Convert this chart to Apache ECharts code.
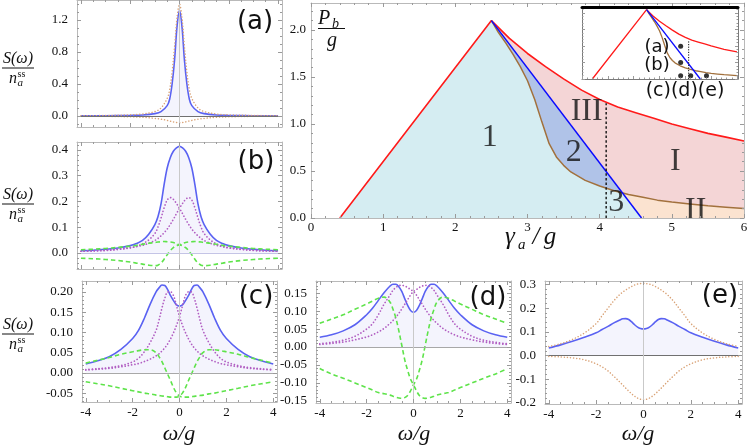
<!DOCTYPE html>
<html><head><meta charset="utf-8">
<script src="https://cdn.jsdelivr.net/npm/echarts@6.0.0/dist/echarts.min.js"></script>
<style>html,body{margin:0;padding:0;background:#fff}#c{width:747px;height:446px}</style>
</head><body><div id="c"></div>
<script>
// ---------------- data ----------------
const W = [-4,-3.5,-3,-2.5,-2,-1.75,-1.5,-1.25,-1,-0.875,-0.75,-0.625,-0.5,-0.375,-0.25,-0.125,0,0.125,0.25,0.375,0.5,0.625,0.75,0.875,1,1.25,1.5,1.75,2,2.5,3,3.5,4];
const A_W = [-4,-3,-2,-1.5,-1,-0.75,-0.5,-0.4,-0.3,-0.2,-0.1,0,0.1,0.2,0.3,0.4,0.5,0.75,1,1.5,2,3,4];

// panel (a)
const A_BLUE = [0.002,0.003,0.007,0.012,0.03,0.055,0.13,0.21,0.4,0.7,1.12,1.32,1.12,0.7,0.4,0.21,0.13,0.055,0.03,0.012,0.007,0.003,0.002];
const A_UP   = [0.003,0.006,0.014,0.025,0.055,0.1,0.22,0.33,0.55,0.87,1.23,1.40,1.23,0.87,0.55,0.33,0.22,0.1,0.055,0.025,0.014,0.006,0.003];
const A_DN   = [-0.002,-0.004,-0.01,-0.016,-0.03,-0.04,-0.055,-0.062,-0.07,-0.077,-0.082,-0.085,-0.082,-0.077,-0.07,-0.062,-0.055,-0.04,-0.03,-0.016,-0.01,-0.004,-0.002];

// panel (b)
const B_BLUE = [0.008,0.01,0.014,0.019,0.028,0.036,0.048,0.072,0.11,0.14,0.19,0.265,0.33,0.37,0.395,0.408,0.414,0.408,0.395,0.37,0.33,0.265,0.19,0.14,0.11,0.072,0.048,0.036,0.028,0.019,0.014,0.01,0.008];
const B_PURPLE_L = [0.006,0.007,0.009,0.013,0.019,0.025,0.035,0.05,0.075,0.1,0.135,0.175,0.205,0.215,0.208,0.192,0.173,0.152,0.13,0.11,0.092,0.078,0.066,0.056,0.048,0.037,0.029,0.024,0.02,0.014,0.01,0.008,0.006];
const B_PURPLE_R = [0.006,0.008,0.01,0.014,0.02,0.024,0.029,0.037,0.048,0.056,0.066,0.078,0.092,0.11,0.13,0.152,0.173,0.192,0.208,0.215,0.205,0.175,0.135,0.1,0.075,0.05,0.035,0.025,0.019,0.013,0.009,0.007,0.006];
const B_GREEN_A = [0.012,0.014,0.017,0.021,0.026,0.029,0.033,0.037,0.04,0.042,0.043,0.044,0.043,0.042,0.04,0.036,0.031,0.028,0.02,0.008,-0.008,-0.025,-0.04,-0.048,-0.05,-0.048,-0.044,-0.04,-0.036,-0.03,-0.026,-0.023,-0.021];
const B_GREEN_B = [-0.021,-0.023,-0.026,-0.03,-0.036,-0.04,-0.044,-0.048,-0.05,-0.048,-0.04,-0.025,-0.008,0.008,0.02,0.028,0.031,0.036,0.04,0.042,0.043,0.044,0.043,0.042,0.04,0.037,0.033,0.029,0.026,0.021,0.017,0.014,0.012];

// panel (c)
const C_BLUE = [0.022,0.03,0.04,0.058,0.085,0.105,0.135,0.17,0.2,0.21,0.217,0.216,0.205,0.19,0.178,0.168,0.165,0.168,0.178,0.19,0.205,0.216,0.217,0.21,0.2,0.17,0.135,0.105,0.085,0.058,0.04,0.03,0.022];
const C_PURPLE_L = [0.008,0.01,0.013,0.018,0.027,0.036,0.052,0.075,0.105,0.13,0.16,0.185,0.2,0.2,0.19,0.165,0.139,0.118,0.1,0.085,0.072,0.062,0.054,0.047,0.042,0.034,0.028,0.023,0.02,0.015,0.011,0.009,0.007];
const C_PURPLE_R = [0.007,0.009,0.011,0.015,0.02,0.023,0.028,0.034,0.042,0.047,0.054,0.062,0.072,0.085,0.1,0.118,0.139,0.165,0.19,0.2,0.2,0.185,0.16,0.13,0.105,0.075,0.052,0.036,0.027,0.018,0.013,0.01,0.008];
const C_GREEN_A = [0.024,0.031,0.038,0.046,0.052,0.055,0.057,0.057,0.05,0.04,0.028,0.012,-0.004,-0.02,-0.037,-0.05,-0.057,-0.06,-0.06,-0.06,-0.059,-0.058,-0.057,-0.056,-0.055,-0.052,-0.05,-0.047,-0.044,-0.038,-0.032,-0.027,-0.022];
const C_GREEN_B = [-0.022,-0.027,-0.032,-0.038,-0.044,-0.047,-0.05,-0.052,-0.055,-0.056,-0.057,-0.058,-0.059,-0.06,-0.06,-0.06,-0.057,-0.05,-0.037,-0.02,-0.004,0.012,0.028,0.04,0.05,0.057,0.057,0.055,0.052,0.046,0.038,0.031,0.024];

// panel (d)
const D_BLUE = [0.027,0.034,0.045,0.062,0.09,0.108,0.13,0.152,0.17,0.175,0.175,0.168,0.155,0.135,0.116,0.102,0.097,0.102,0.116,0.135,0.155,0.168,0.175,0.175,0.17,0.152,0.13,0.108,0.09,0.062,0.045,0.034,0.027];
const D_PURPLE_L = [0.009,0.013,0.019,0.03,0.05,0.065,0.09,0.12,0.145,0.158,0.166,0.171,0.172,0.17,0.166,0.16,0.155,0.145,0.132,0.119,0.106,0.094,0.083,0.074,0.066,0.052,0.042,0.034,0.028,0.02,0.014,0.01,0.007];
const D_PURPLE_R = [0.007,0.01,0.014,0.02,0.028,0.034,0.042,0.052,0.066,0.074,0.083,0.094,0.106,0.119,0.132,0.145,0.155,0.16,0.166,0.17,0.172,0.171,0.166,0.158,0.145,0.12,0.09,0.065,0.05,0.03,0.019,0.013,0.009];
const D_GREEN_A = [0.066,0.078,0.09,0.105,0.12,0.128,0.136,0.139,0.125,0.105,0.08,0.045,0.005,-0.035,-0.065,-0.09,-0.105,-0.122,-0.135,-0.141,-0.143,-0.142,-0.14,-0.137,-0.134,-0.13,-0.127,-0.12,-0.113,-0.1,-0.087,-0.075,-0.06];
const D_GREEN_B = [-0.06,-0.075,-0.087,-0.1,-0.113,-0.12,-0.127,-0.13,-0.134,-0.137,-0.14,-0.142,-0.143,-0.141,-0.135,-0.122,-0.105,-0.09,-0.065,-0.035,0.005,0.045,0.08,0.105,0.125,0.139,0.136,0.128,0.12,0.105,0.09,0.078,0.066];

// panel (e)
const E_BLUE = [0.032,0.045,0.06,0.077,0.096,0.11,0.123,0.138,0.15,0.155,0.156,0.152,0.142,0.13,0.12,0.114,0.112,0.114,0.12,0.13,0.142,0.152,0.156,0.155,0.15,0.138,0.123,0.11,0.096,0.077,0.06,0.045,0.032];
const E_UP = [0.038,0.05,0.068,0.095,0.135,0.168,0.2,0.232,0.258,0.268,0.277,0.285,0.292,0.298,0.302,0.304,0.305,0.304,0.302,0.298,0.292,0.285,0.277,0.268,0.258,0.232,0.2,0.168,0.135,0.095,0.068,0.05,0.038];
const E_DN = [-0.004,-0.006,-0.01,-0.018,-0.035,-0.048,-0.065,-0.088,-0.112,-0.125,-0.138,-0.15,-0.162,-0.172,-0.18,-0.185,-0.187,-0.185,-0.18,-0.172,-0.162,-0.15,-0.138,-0.125,-0.112,-0.088,-0.065,-0.048,-0.035,-0.018,-0.01,-0.006,-0.004];

// phase diagram
const RED_X = [0.4,2.5,2.75,3.0,3.25,3.5,3.75,4.0,4.25,4.5,4.75,5.0,5.25,5.5,5.75,6.0];
const RED_Y = [0,2.1,1.91,1.75,1.61,1.48,1.36,1.26,1.18,1.12,1.06,1.0,0.95,0.9,0.86,0.82];
const BLUE_X = [2.5,4.58];
const BLUE_Y = [2.1,0];
const BROWN_X = [2.5,2.6,2.7,2.8,2.9,3.0,3.1,3.2,3.3,3.4,3.5,3.6,3.8,4.0,4.2,4.4,4.6,4.8,5.0,5.25,5.5,5.75,6.0];
const BROWN_Y = [2.1,1.97,1.86,1.74,1.61,1.46,1.26,1.02,0.79,0.65,0.56,0.49,0.4,0.34,0.29,0.25,0.22,0.19,0.17,0.15,0.13,0.115,0.1];
const DASH_X = [4.09,4.09];
const DASH_Y = [0,1.22];
const INSET_DASH_X = [4.13,4.13];
const INSET_DASH_Y = [0,1.17];
const DOTS_X = [3.82,3.82,3.82,4.21,4.82];
const DOTS_Y = [0.99,0.5,0.1,0.1,0.1];
const REGION_TEXT = ['1','2','III','3','I','II'];
const REGION_X = [2.476,3.64,3.82,4.23,5.05,5.33];
const REGION_Y = [0.856,0.70,1.13,0.16,0.60,0.074];

// tick labels
const W_TICKS = [-4,-2,0,2,4];
const A_Y_TICKS = [0,0.4,0.8,1.2];
const B_Y_TICKS = [0,0.1,0.2,0.3,0.4];
const C_Y_TICKS = [-0.05,0,0.05,0.1,0.15,0.2];
const D_Y_TICKS = [-0.15,-0.1,-0.05,0,0.05,0.1,0.15];
const E_Y_TICKS = [-0.2,-0.1,0,0.1,0.2,0.3];
const MAIN_X_TICKS = [0,1,2,3,4,5,6];
const MAIN_Y_TICKS = [0,0.5,1,1.5,2];

// ---------------- build ----------------
const SERIF = '"Liberation Serif","Times New Roman",serif';
const FRAME = '#b9b9b9', TICK = '#9a9a9a';
function steps(a, b, s) { const o = []; const i0 = Math.ceil(a / s - 1e-9), i1 = Math.floor(b / s + 1e-9); for (let i = i0; i <= i1; i++) o.push(+(i * s).toFixed(6)); return o; }
const zip = (xs, ys) => xs.map((x, i) => [x, ys[i]]);

const xAxis = [], yAxis = [];
function frame(gi, xr, yr, xMaj, xMinS, yMaj, yMinS, o) {
  const z = o.z || 8, col = o.frame || FRAME, L1 = o.tickLen || 4, L2 = (o.tickLen || 4) / 2;
  const xMin = steps(xr[0], xr[1], xMinS), yMin = steps(yr[0], yr[1], yMinS);
  function ax(r, pos, ticks, len, showLine, label, ls, noTicks) {
    return { gridIndex: gi, type: 'value', min: r[0], max: r[1], position: pos, z: z,
      axisLine: { show: showLine, onZero: false, lineStyle: ls || { color: col, width: 1 } },
      axisTick: { show: !noTicks, inside: true, length: len, customValues: ticks, lineStyle: { color: TICK, width: 1 } },
      axisLabel: label || { show: false },
      splitLine: { show: false }, splitArea: { show: false }, minorTick: { show: false } };
  }
  const xi = xAxis.length, yi = yAxis.length;
  xAxis.push(ax(xr, 'bottom', xMaj, L1, true, o.xLabel ? { show: true, customValues: xMaj, hideOverlap: false,
    formatter: v => String(v), fontFamily: SERIF, fontSize: 13, color: '#111', margin: o.xMargin || 4 } : null));
  xAxis.push(ax(xr, 'bottom', xMin, L2, false, null));
  xAxis.push(ax(xr, 'top', xMaj, L1, true, null, o.topLine, !!o.topLine));
  xAxis.push(ax(xr, 'top', xMin, L2, false, null, null, !!o.topLine));
  yAxis.push(ax(yr, 'left', yMaj, L1, true, o.yLabel === false ? null : { show: true, customValues: yMaj, hideOverlap: false,
    formatter: v => v.toFixed(o.yDec), fontFamily: SERIF, fontSize: 13, color: '#111', margin: o.yMargin || 9 }));
  yAxis.push(ax(yr, 'left', yMin, L2, false, null));
  yAxis.push(ax(yr, 'right', yMaj, L1, true, null));
  yAxis.push(ax(yr, 'right', yMin, L2, false, null));
  return { xAxisIndex: xi, yAxisIndex: yi };
}

const XR = [-4.16, 4.16];
const panels = [
  { g: { left: 77, top: 0, width: 205, height: 127 }, yr: [-0.1375, 1.45], yMaj: A_Y_TICKS, ys: 0.1, yDec: 1, xLabel: false },
  { g: { left: 77, top: 142, width: 205, height: 127 }, yr: [-0.063, 0.431], yMaj: B_Y_TICKS, ys: 0.02, yDec: 1, xLabel: false },
  { g: { left: 82, top: 281, width: 195, height: 121 }, yr: [-0.072, 0.227], yMaj: C_Y_TICKS, ys: 0.01, yDec: 2, xLabel: true },
  { g: { left: 316, top: 281, width: 195, height: 122 }, yr: [-0.156, 0.184], yMaj: D_Y_TICKS, ys: 0.01, yDec: 2, xLabel: true },
  { g: { left: 545, top: 281, width: 197, height: 123 }, yr: [-0.205, 0.315], yMaj: E_Y_TICKS, ys: 0.02, yDec: 1, xLabel: true }
];
const grids = [];
const AX = panels.map((p, i) => {
  grids.push(Object.assign({ containLabel: false, outerBoundsMode: 'none' }, p.g));
  return frame(i, XR, p.yr, W_TICKS, 0.5, p.yMaj, p.ys, { yDec: p.yDec, xLabel: p.xLabel });
});
grids.push({ left: 311, top: 3, width: 433, height: 215, containLabel: false, outerBoundsMode: 'none' });
const MAIN = frame(5, [0, 6], [0, 2.287], MAIN_X_TICKS, 0.2, MAIN_Y_TICKS, 0.1, { yDec: 1, xLabel: true, xMargin: 3, yMargin: 5 });
grids.push({ left: 582, top: 7, width: 156, height: 72, show: true, backgroundColor: '#ffffff', borderWidth: 0, z: 10, containLabel: false, outerBoundsMode: 'none' });
const INSET = frame(6, [0, 6.04], [0, 2.18], MAIN_X_TICKS, 0.2, MAIN_Y_TICKS, 0.1,
  { yDec: 1, xLabel: false, yLabel: false, z: 12, frame: '#7a7a7a', tickLen: 3, topLine: { color: '#000', width: 3 } });

const BLUE_LS = { color: '#5a62f2', width: 1.6 };
const PURPLE_LS = { color: '#b15ec2', width: 1.7, type: [0.1, 3.2], cap: 'round' };
const ORANGE_LS = { color: '#d9a276', width: 1.5, type: [0.1, 3], cap: 'round' };
const GREEN_LS = { color: '#5ee34a', width: 1.6, type: [4.5, 3] };
const FILL = { color: 'rgba(110,110,235,0.11)' };

const series = [];
function curve(ax, xs, ys, ls, extra) {
  series.push(Object.assign({ type: 'line', data: zip(xs, ys), showSymbol: false, symbol: 'none', smooth: 0.35,
    lineStyle: ls, silent: true, animation: false, z: 3 }, ax, extra || {}));
}
function zeroLines(dark) {
  return { silent: true, symbol: 'none', animation: false, label: { show: false },
    data: [ { yAxis: 0, lineStyle: { color: dark, width: 1.1, type: 'solid' } },
            { xAxis: 0, lineStyle: { color: '#c9c9c9', width: 1, type: 'solid' } } ] };
}
// (a)
curve(AX[0], A_W, A_BLUE, BLUE_LS, { areaStyle: FILL, z: 2, markLine: zeroLines('#707070') });
curve(AX[0], A_W, A_UP, ORANGE_LS);
curve(AX[0], A_W, A_DN, ORANGE_LS);
// (b)
curve(AX[1], W, B_BLUE, BLUE_LS, { areaStyle: FILL, z: 2, markLine: zeroLines('#c4c4e6') });
curve(AX[1], W, B_PURPLE_L, PURPLE_LS);
curve(AX[1], W, B_PURPLE_R, PURPLE_LS);
curve(AX[1], W, B_GREEN_A, GREEN_LS);
curve(AX[1], W, B_GREEN_B, GREEN_LS);
// (c)
curve(AX[2], W, C_BLUE, BLUE_LS, { areaStyle: FILL, z: 2, markLine: zeroLines('#a8a8a8') });
curve(AX[2], W, C_PURPLE_L, PURPLE_LS);
curve(AX[2], W, C_PURPLE_R, PURPLE_LS);
curve(AX[2], W, C_GREEN_A, GREEN_LS);
curve(AX[2], W, C_GREEN_B, GREEN_LS);
// (d)
curve(AX[3], W, D_BLUE, BLUE_LS, { areaStyle: FILL, z: 2, markLine: zeroLines('#a8a8a8') });
curve(AX[3], W, D_PURPLE_L, PURPLE_LS);
curve(AX[3], W, D_PURPLE_R, PURPLE_LS);
curve(AX[3], W, D_GREEN_A, GREEN_LS);
curve(AX[3], W, D_GREEN_B, GREEN_LS);
// (e)
curve(AX[4], W, E_BLUE, BLUE_LS, { areaStyle: FILL, z: 2, markLine: zeroLines('#707070') });
curve(AX[4], W, E_UP, ORANGE_LS);
curve(AX[4], W, E_DN, ORANGE_LS);

// phase diagram fills
function interp(xs, ys, x) {
  if (x <= xs[0]) return ys[0];
  for (let i = 0; i < xs.length - 1; i++) if (x <= xs[i + 1]) return ys[i] + (ys[i + 1] - ys[i]) * (x - xs[i]) / (xs[i + 1] - xs[i]);
  return ys[ys.length - 1];
}
const blueEnd = BLUE_X[BLUE_X.length - 1];
let cx = Array.from(new Set(BROWN_X.filter(x => x <= blueEnd).concat(BLUE_X))).sort((a, b) => a - b);
const withCross = [];
for (let i = 0; i < cx.length; i++) {
  withCross.push(cx[i]);
  if (i < cx.length - 1) {
    const d0 = interp(BROWN_X, BROWN_Y, cx[i]) - interp(BLUE_X, BLUE_Y, cx[i]);
    const d1 = interp(BROWN_X, BROWN_Y, cx[i + 1]) - interp(BLUE_X, BLUE_Y, cx[i + 1]);
    if (d0 * d1 < 0) withCross.push(cx[i] + (cx[i + 1] - cx[i]) * d0 / (d0 - d1));
  }
}
const cyanData = [[RED_X[0], RED_Y[0]]].concat(withCross.map(x => [x, Math.min(interp(BROWN_X, BROWN_Y, x), interp(BLUE_X, BLUE_Y, x))]));
function fill(ax, data, color, z) {
  series.push(Object.assign({ type: 'line', data, showSymbol: false, symbol: 'none', smooth: false, silent: true, animation: false,
    lineStyle: { width: 0, opacity: 0 }, areaStyle: { color, opacity: 1 }, z }, ax));
}
fill(MAIN, zip(RED_X, RED_Y), '#f4d5d6', 1);
fill(MAIN, zip(BROWN_X, BROWN_Y), '#fbe3d0', 2);
fill(MAIN, zip(BLUE_X, BLUE_Y), '#b0c3e8', 3);
fill(MAIN, cyanData, '#d5edf2', 4);
function plain(ax, xs, ys, ls, z) {
  series.push(Object.assign({ type: 'line', data: zip(xs, ys), showSymbol: false, symbol: 'none', smooth: false, silent: true,
    animation: false, lineStyle: ls, z }, ax));
}
plain(MAIN, RED_X, RED_Y, { color: '#ff1a1a', width: 1.6 }, 5);
plain(MAIN, BROWN_X, BROWN_Y, { color: '#a2713d', width: 1.5 }, 5);
plain(MAIN, BLUE_X, BLUE_Y, { color: '#0a0aff', width: 1.5 }, 5);
plain(MAIN, DASH_X, DASH_Y, { color: '#111', width: 1.4, type: [2.5, 2.2] }, 5);
series.push(Object.assign({ type: 'scatter', data: REGION_X.map((x, i) => [x, REGION_Y[i], REGION_TEXT[i]]), symbolSize: 1,
  itemStyle: { color: 'rgba(0,0,0,0)' }, silent: true, animation: false, z: 6,
  label: { show: true, position: 'inside', formatter: p => p.data[2], fontFamily: SERIF, fontSize: 32, color: '#111' } }, MAIN));
// inset
plain(INSET, RED_X, RED_Y, { color: '#ff1a1a', width: 1.3 }, 11);
plain(INSET, BROWN_X, BROWN_Y, { color: '#a2713d', width: 1.3 }, 11);
plain(INSET, BLUE_X, BLUE_Y, { color: '#0a0aff', width: 1.3 }, 11);
plain(INSET, INSET_DASH_X, INSET_DASH_Y, { color: '#111', width: 1, type: [1.2, 1.4] }, 11);
series.push(Object.assign({ type: 'scatter', data: zip(DOTS_X, DOTS_Y), symbolSize: 5, itemStyle: { color: '#000' },
  silent: true, animation: false, z: 11 }, INSET));

// ---------------- text ----------------
function T(text, x, y, font, align) {
  return { type: 'text', x, y, z: 30, silent: true,
    style: { text, font, fill: '#111', align: align || 'center', verticalAlign: 'middle', textAlign: align || 'center', textVerticalAlign: 'middle' } };
}
function HL(x1, x2, y) { return { type: 'line', z: 30, silent: true, shape: { x1, y1: y, x2, y2: y }, style: { stroke: '#111', lineWidth: 1 } }; }
const IT = s => 'italic ' + s + 'px ' + SERIF;
function fracS(c, ly) {
  return [ T('S(ω)', c, ly - 9, IT(16)), HL(c - 16, c + 16, ly),
    T('n', c - 1, ly + 11, IT(16), 'right'), T('ss', c - 0.5, ly + 6.5, '10px ' + SERIF, 'left'), T('a', c - 0.5, ly + 15.5, IT(11), 'left') ];
}
const SANS = '"DejaVu Sans",Verdana,sans-serif';
const elements = [].concat(
  fracS(18, 68), fracS(18, 204), fracS(18, 334),
  [ T('(a)', 255, 22, '26px ' + SANS), T('(b)', 256, 162, '26px ' + SANS), T('(c)', 256, 297, '26px ' + SANS),
    T('(d)', 488, 298, '26px ' + SANS), T('(e)', 720, 296, '26px ' + SANS),
    T('ω/g', 179, 434, IT(22)), T('ω/g', 414, 434, IT(22)), T('ω/g', 638, 434, IT(22)),
    T('γ', 505, 237, IT(25), 'left'), T('a', 518, 245, IT(15), 'left'), T('/', 536, 237, IT(25), 'center'), T('g', 550, 237, IT(25), 'center'),
    T('P', 318, 19, IT(20), 'left'), T('b', 332, 24, IT(14), 'left'), HL(318, 345, 28.5), T('g', 332, 41, IT(20)),
    T('(a)', 657, 47, '18px ' + SANS), T('(b)', 657, 65, '18px ' + SANS), T('(c)(d)(e)', 685, 91, '19px ' + SANS) ]
);

const chart = echarts.init(document.getElementById('c'), null, { renderer: 'canvas' });
chart.setOption({ animation: false, backgroundColor: '#fff', grid: grids, xAxis, yAxis, series, graphic: { elements } });
</script></body></html>
